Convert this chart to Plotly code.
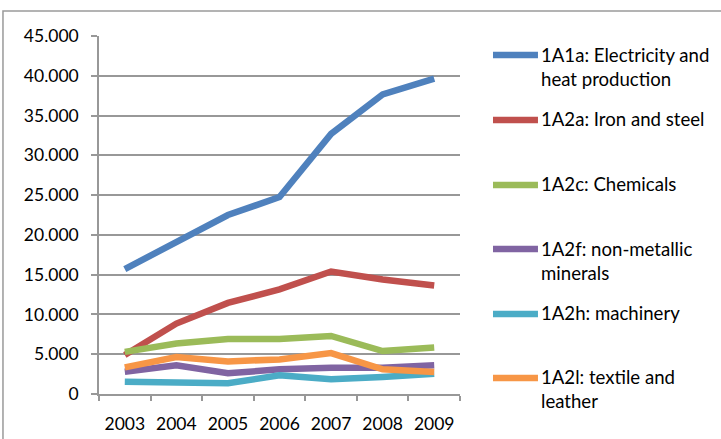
import plotly.graph_objects as go

years = ["2003", "2004", "2005", "2006", "2007", "2008", "2009"]

electricity_heat = [15700, 19200, 22500, 24750, 32700, 37650, 39650]
iron_steel = [4900, 8850, 11450, 13150, 15400, 14400, 13650]
chemicals = [5300, 6350, 6900, 6900, 7300, 5400, 5850]
non_metallic = [2800, 3600, 2600, 3100, 3300, 3300, 3600]
machinery = [1550, 1550, 1350, 2350, 1850, 2150, 2550]
textile_leather = [3350, 4650, 4100, 4350, 5150, 3100, 2750]

series_names = [
    "1A1a: Electricity and<br>heat production",
    "1A2a: Iron and steel",
    "1A2c: Chemicals",
    "1A2f: non-metallic<br>minerals",
    "1A2h: machinery",
    "1A2l: textile and<br>leather",
]
series_values = [electricity_heat, iron_steel, chemicals, non_metallic, machinery, textile_leather]
series_colors = ["#4F81BD", "#C0504D", "#9BBB59", "#8064A2", "#4BACC6", "#F79646"]

y_ticks = [0, 5000, 10000, 15000, 20000, 25000, 30000, 35000, 40000, 45000]
y_tick_labels = ["0", "5.000", "10.000", "15.000", "20.000", "25.000", "30.000", "35.000", "40.000", "45.000"]

FONT = "Lato"
GRID = "#989898"
LINE_W = 6.5
TICK_SIZE = 17.5
LEGEND_SIZE = 18.6

# legend key geometry (paper coordinates of the plot area)
KEY_X0, KEY_X1, TEXT_X = 1.0914, 1.216, 1.2216
KEY_Y = [0.9469, 0.7654, 0.5838, 0.4050, 0.2235, 0.0447]
HALF_LINE = 12.5 / 358

fig = go.Figure()
for name, vals, col in zip(series_names, series_values, series_colors):
    fig.add_trace(go.Scatter(
        x=years, y=vals, name=name.replace("<br>", " "), mode="lines",
        line=dict(color=col, width=LINE_W),
        showlegend=False,
    ))

# chart-area frame
shapes = [dict(
    type="rect", xref="paper", yref="paper",
    x0=-0.266, x1=1.75, y0=-0.15, y1=1.0698,
    line=dict(color="#9a9a9a", width=1.5), fillcolor="rgba(0,0,0,0)", layer="below",
)]
annotations = []
for name, col, ky in zip(series_names, series_colors, KEY_Y):
    shapes.append(dict(
        type="line", xref="paper", yref="paper",
        x0=KEY_X0, x1=KEY_X1, y0=ky, y1=ky,
        line=dict(color=col, width=LINE_W),
    ))
    annotations.append(dict(
        xref="paper", yref="paper", x=TEXT_X, y=ky + HALF_LINE,
        xanchor="left", yanchor="top", align="left", showarrow=False,
        text=name, font=dict(family=FONT, size=LEGEND_SIZE, color="#000000"),
        borderpad=0,
    ))

fig.update_layout(
    width=721, height=439,
    margin=dict(l=99, r=261, t=36, b=45, autoexpand=False),
    paper_bgcolor="white", plot_bgcolor="white",
    font=dict(family=FONT, size=TICK_SIZE, color="#000000"),
    showlegend=False,
    xaxis=dict(
        type="category", showgrid=False, showline=True, linecolor=GRID, linewidth=1.5,
        ticks="outside", ticklen=5, tickcolor=GRID, tickwidth=1.5, tickson="boundaries",
        ticklabelstandoff=13, automargin=False,
        tickfont=dict(family=FONT, size=TICK_SIZE), range=[-0.5, 6.5], fixedrange=True,
    ),
    yaxis=dict(
        range=[0, 45000], tickvals=y_ticks, ticktext=y_tick_labels,
        showgrid=True, gridcolor=GRID, gridwidth=1.5,
        showline=True, linecolor=GRID, linewidth=1.5, zeroline=False,
        ticks="outside", ticklen=6, tickcolor=GRID, tickwidth=1.5,
        ticklabelstandoff=9, automargin=False, tickfont=dict(family=FONT, size=TICK_SIZE),
    ),
    shapes=shapes,
    annotations=annotations,
)

fig.write_html("out.html")
